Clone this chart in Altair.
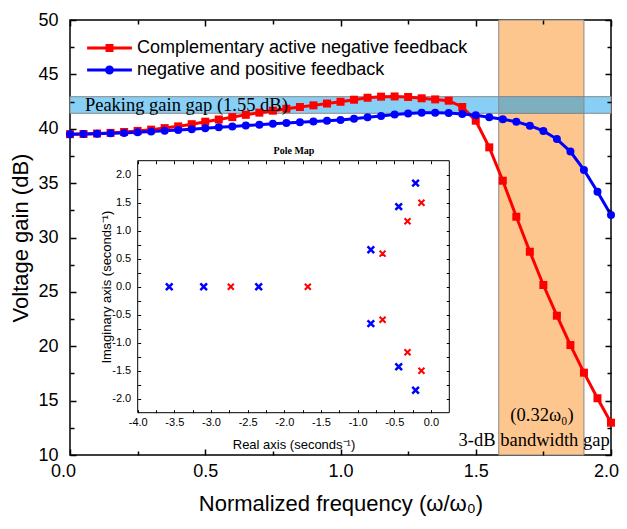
import altair as alt
import pandas as pd

# ---------------- data ----------------
FREQ = [0.00, 0.05, 0.10, 0.15, 0.20, 0.25, 0.30, 0.35, 0.40, 0.45,
        0.50, 0.55, 0.60, 0.65, 0.70, 0.75, 0.80, 0.85, 0.90, 0.95,
        1.00, 1.05, 1.10, 1.15, 1.20, 1.25, 1.30, 1.35, 1.40, 1.45,
        1.50, 1.55, 1.60, 1.65, 1.70, 1.75, 1.80, 1.85, 1.90, 1.95, 2.00]
RED_GAIN = [39.50, 39.52, 39.56, 39.62, 39.70, 39.80, 39.92, 40.06, 40.22, 40.42,
            40.65, 40.85, 41.07, 41.28, 41.48, 41.66, 41.84, 42.00, 42.15, 42.32,
            42.48, 42.67, 42.85, 42.95, 42.97, 42.92, 42.80, 42.70, 42.58, 42.00,
            40.74, 38.29, 35.22, 31.91, 28.69, 25.63, 22.81, 20.11, 17.57, 15.22, 12.97]
BLUE_GAIN = [39.50, 39.52, 39.55, 39.58, 39.62, 39.68, 39.74, 39.81, 39.88, 39.96,
             40.05, 40.13, 40.21, 40.29, 40.37, 40.45, 40.52, 40.59, 40.66, 40.73,
             40.80, 40.92, 41.05, 41.18, 41.30, 41.40, 41.46, 41.48, 41.44, 41.35,
             41.24, 41.05, 40.87, 40.65, 40.28, 39.80, 39.05, 37.90, 36.21, 34.21, 32.07]
SERIES = ["Complementary active negative feedback", "negative and positive feedback"]
SERIES_COLORS = ["#FF0000", "#0000FF"]

X_DOMAIN = [0.0, 2.0]
Y_DOMAIN = [10.0, 50.0]
X_MAJOR = [0.0, 0.5, 1.0, 1.5, 2.0]
X_MINOR = [0.25, 0.75, 1.25, 1.75]
Y_MAJOR = [10, 15, 20, 25, 30, 35, 40, 45, 50]
Y_MINOR = [12.5, 17.5, 22.5, 27.5, 32.5, 37.5, 42.5, 47.5]

PEAK_BAND = [41.42, 42.95]      # dB
BW_BAND = [1.585, 1.90]         # normalized frequency

# pole map
BLUE_RE = [-3.57, -3.10, -2.35, -0.82, -0.82, -0.44, -0.44, -0.21, -0.21]
BLUE_IM = [0.00, 0.00, 0.00, 0.66, -0.66, 1.43, -1.43, 1.85, -1.85]
RED_RE = [-2.73, -1.68, -0.66, -0.66, -0.32, -0.32, -0.13, -0.13]
RED_IM = [0.00, 0.00, 0.59, -0.59, 1.17, -1.17, 1.50, -1.50]
IX_DOMAIN = [-4.0, 0.25]
IY_DOMAIN = [-2.25, 2.25]
IX_TICKS = [-4.0, -3.75, -3.5, -3.25, -3.0, -2.75, -2.5, -2.25, -2.0, -1.75,
            -1.5, -1.25, -1.0, -0.75, -0.5, -0.25, 0.0]
IY_TICKS = [-2.0, -1.75, -1.5, -1.25, -1.0, -0.75, -0.5, -0.25, 0.0,
            0.25, 0.5, 0.75, 1.0, 1.25, 1.5, 1.75, 2.0]

# ---------------- layout constants ----------------
W, H = 541, 435
SANS = "Liberation Sans"
SERIF = "Liberation Serif"

curves = pd.DataFrame({
    "x": FREQ + FREQ,
    "y": RED_GAIN + BLUE_GAIN,
    "series": [SERIES[0]] * len(FREQ) + [SERIES[1]] * len(FREQ),
})
red_df = pd.DataFrame({"x": FREQ, "y": RED_GAIN})
blue_df = pd.DataFrame({"x": FREQ, "y": BLUE_GAIN})

xs = alt.Scale(domain=X_DOMAIN, nice=False, zero=False)
ys = alt.Scale(domain=Y_DOMAIN, nice=False, zero=False)
cs = alt.Scale(domain=SERIES, range=SERIES_COLORS)

# ---------- bands ----------
def band(x0, x1, y0, y1, fill):
    df = pd.DataFrame({"x0": [x0], "x1": [x1], "y0": [y0], "y1": [y1]})
    return alt.Chart(df).mark_rect(fill=fill, stroke="#8a8a8a", strokeWidth=1).encode(
        x=alt.X("x0:Q", scale=xs, axis=None), x2="x1:Q",
        y=alt.Y("y0:Q", scale=ys, axis=None), y2="y1:Q")

orange_band = band(BW_BAND[0], BW_BAND[1], Y_DOMAIN[0], Y_DOMAIN[1], "#FCC68E")
blue_band = band(X_DOMAIN[0], X_DOMAIN[1], PEAK_BAND[0], PEAK_BAND[1], "#87CFF5")
inter_band = band(BW_BAND[0], BW_BAND[1], PEAK_BAND[0], PEAK_BAND[1], "#7DAFBE")

# ---------- axis carriers (ticks inside, mirrored) ----------
def carrier(xaxis, yaxis):
    return alt.Chart(curves).mark_point(opacity=0).encode(
        x=alt.X("x:Q", scale=xs, axis=xaxis),
        y=alt.Y("y:Q", scale=ys, axis=yaxis))

common = dict(domain=False, grid=False, zindex=1, labelOverlap=False)
ax_xb = alt.Axis(orient="bottom", values=X_MAJOR, tickSize=6, offset=-6, format=".1f",
                 labelPadding=7, labelFlush=False,
                 labelOffset={"condition": [{"test": "datum.value == 0", "value": -7},
                                            {"test": "datum.value == 2", "value": -5}],
                              "value": 0},
                 title="Normalized frequency (ω/ω₀)",
                 titleY=54, titleBaseline="middle", **common)
ax_xb_m = alt.Axis(orient="bottom", values=X_MINOR, tickSize=4, offset=-4, labels=False,
                   title=None, **common)
ax_xt = alt.Axis(orient="top", values=X_MAJOR, tickSize=6, offset=-6, labels=False,
                 title=None, **common)
ax_xt_m = alt.Axis(orient="top", values=X_MINOR, tickSize=4, offset=-4, labels=False,
                   title=None, **common)
ax_yl = alt.Axis(orient="left", values=Y_MAJOR, tickSize=6, offset=-6, format="d",
                 labelPadding=12, title="Voltage gain (dB)", titleX=-56,
                 titleBaseline="middle", **common)
ax_yl_m = alt.Axis(orient="left", values=Y_MINOR, tickSize=4, offset=-4, labels=False,
                   title=None, **common)
ax_yr = alt.Axis(orient="right", values=Y_MAJOR, tickSize=6, offset=-6, labels=False,
                 title=None, **common)
ax_yr_m = alt.Axis(orient="right", values=Y_MINOR, tickSize=4, offset=-4, labels=False,
                   title=None, **common)

carriers = [carrier(ax_xb, ax_yl), carrier(ax_xb_m, ax_yl_m),
            carrier(ax_xt, ax_yr), carrier(ax_xt_m, ax_yr_m)]

# ---------- curves ----------
def xy():
    return dict(x=alt.X("x:Q", scale=xs, axis=None), y=alt.Y("y:Q", scale=ys, axis=None))

red_line = alt.Chart(red_df).mark_line(strokeWidth=3, color=SERIES_COLORS[0]).encode(**xy())
blue_line = alt.Chart(blue_df).mark_line(strokeWidth=3, color=SERIES_COLORS[1]).encode(**xy())
red_pts = alt.Chart(red_df).mark_square(size=64, opacity=1, color=SERIES_COLORS[0]).encode(**xy())
blue_pts = alt.Chart(blue_df).mark_circle(size=64, opacity=1, color=SERIES_COLORS[1]).encode(**xy())

legend = alt.Legend(title=None, orient="none", legendX=30.5, legendY=19,
                    labelFont=SANS, labelFontSize=18, labelColor="black", labelLimit=0,
                    labelOffset=18.5, symbolSize=64, symbolStrokeWidth=3, symbolOpacity=1,
                    rowPadding=4, padding=0)
leg_shapes = alt.Scale(domain=SERIES, range=[
    "M-5.6,0H5.6M-1,-0.6H1M-1,0.6H1",
    "M-5.6,0H5.6M-0.75,0A0.75,0.75 0 1,1 0.75,0A0.75,0.75 0 1,1 -0.75,0"])
legend_layer = alt.Chart(curves).mark_point(opacity=0, filled=False).encode(
    x=alt.X("x:Q", scale=xs, axis=None),
    y=alt.Y("y:Q", scale=ys, axis=None),
    color=alt.Color("series:N", scale=cs, legend=legend),
    shape=alt.Shape("series:N", scale=leg_shapes, legend=legend))

# ---------- annotations ----------
def label(x, y, text, align):
    df = pd.DataFrame({"x": [x], "y": [y], "t": [text]})
    return alt.Chart(df).mark_text(font=SERIF, fontSize=18.5, color="black",
                                   align=align, baseline="middle").encode(
        x=alt.X("x:Q", scale=xs, axis=None), y=alt.Y("y:Q", scale=ys, axis=None),
        text="t:N")

txt_peak = label(0.055, 42.22, "Peaking gain gap (1.55 dB)", "left")
txt_bw1 = label(1.745, 13.7, "(0.32ω₀)", "center")
txt_bw2 = label(1.995, 11.4, "3-dB bandwidth gap", "right")

main = alt.layer(orange_band, blue_band, inter_band, *carriers,
                 red_line, blue_line, red_pts, blue_pts, legend_layer,
                 txt_peak, txt_bw1, txt_bw2).resolve_axis(x="independent", y="independent")

# ---------------- inset: pole map ----------------
IL, IR, IT, IB = 67.7, 379.3, 140.7, 392.7
TS = 3
ixs = alt.Scale(domain=IX_DOMAIN, range=[IL, IR], nice=False, zero=False)
iys = alt.Scale(domain=IY_DOMAIN, range=[IB, IT], nice=False, zero=False)

lab_expr = ("abs(datum.value*2 - round(datum.value*2)) < 0.001 ? "
            "replace(format(datum.value, '.1f'), '\u2212', '-') : ''")
icommon = dict(domain=False, grid=False, zindex=2, labelOverlap=False, labelFlush=False,
               tickSize=TS, tickWidth=1, labelFontSize=11, titleFontSize=13)
ix_b = alt.Axis(orient="bottom", values=IX_TICKS, offset=IB - TS - H, labelExpr=lab_expr,
                labelPadding=4, title="Real axis (seconds⁻¹)", titleY=34.3,
                titleBaseline="middle", **icommon)
iy_l = alt.Axis(orient="left", values=IY_TICKS, offset=-(IL + TS), labelExpr=lab_expr,
                labelPadding=7, title="Imaginary axis (seconds⁻¹)", titleX=-34.7,
                titleBaseline="middle", **icommon)
ix_t = alt.Axis(orient="top", values=IX_TICKS, offset=-(IT + TS), labels=False,
                title="Pole Map", titleFont=SERIF, titleFontWeight="bold", titleFontSize=10,
                titleY=-13, titleBaseline="middle",
                **{k: v for k, v in icommon.items() if k != "titleFontSize"})
iy_r = alt.Axis(orient="right", values=IY_TICKS, offset=-(W - IR + TS), labels=False,
                title=None, **icommon)

frame_df = pd.DataFrame({"x0": [IX_DOMAIN[0]], "x1": [IX_DOMAIN[1]],
                         "y0": [IY_DOMAIN[0]], "y1": [IY_DOMAIN[1]]})
inset_bg = alt.Chart(frame_df).mark_rect(fill="white", stroke="black", strokeWidth=1).encode(
    x=alt.X("x0:Q", scale=ixs, axis=ix_b), x2="x1:Q",
    y=alt.Y("y0:Q", scale=iys, axis=iy_l), y2="y1:Q")
inset_ax2 = alt.Chart(frame_df).mark_point(opacity=0).encode(
    x=alt.X("x0:Q", scale=ixs, axis=ix_t),
    y=alt.Y("y0:Q", scale=iys, axis=iy_r))

XPATH = "M-1,-1L1,1M1,-1L-1,1"
blue_poles = alt.Chart(pd.DataFrame({"re": BLUE_RE, "im": BLUE_IM})).mark_point(
    shape=XPATH, size=44, strokeWidth=2.5, color="#0000FF", filled=False, opacity=1).encode(
    x=alt.X("re:Q", scale=ixs, axis=None), y=alt.Y("im:Q", scale=iys, axis=None))
red_poles = alt.Chart(pd.DataFrame({"re": RED_RE, "im": RED_IM})).mark_point(
    shape=XPATH, size=36, strokeWidth=2, color="#FF0000", filled=False, opacity=1).encode(
    x=alt.X("re:Q", scale=ixs, axis=None), y=alt.Y("im:Q", scale=iys, axis=None))

inset = alt.layer(inset_bg, inset_ax2, blue_poles, red_poles).resolve_axis(
    x="independent", y="independent")

chart = alt.layer(main, inset).resolve_scale(x="independent", y="independent").properties(
    width=W, height=H,
    autosize=alt.AutoSizeParams(type="none"),
    padding={"left": 62, "top": 12, "right": 8, "bottom": 61},
).configure_view(stroke="black", strokeWidth=1.5).configure_axis(
    labelFont=SANS, titleFont=SANS, labelColor="black", titleColor="black",
    tickColor="black", tickWidth=1.5, labelFontSize=18, titleFontSize=22,
    titleFontWeight="normal")

chart.save("out.html", embed_options={"renderer": "svg", "actions": False})
